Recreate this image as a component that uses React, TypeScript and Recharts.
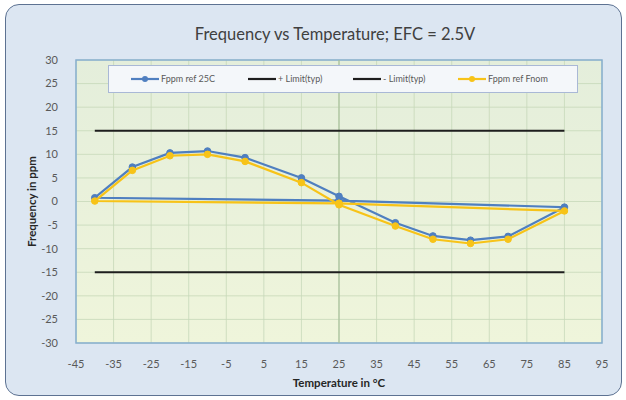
import React from 'react';
import { ScatterChart, Scatter, XAxis, YAxis, CartesianGrid, ReferenceLine, ReferenceArea } from 'recharts';

// loop: starts and ends at 25C
const temps = [25, -40, -30, -20, -10, 0, 15, 25, 40, 50, 60, 70, 85, 25];
const ppmRef25 = [0.2, 0.8, 7.3, 10.3, 10.7, 9.3, 5.0, 1.1, -4.5, -7.3, -8.2, -7.4, -1.2, 0.2];
const ppmRefNom = [-0.4, 0.1, 6.6, 9.7, 10.0, 8.5, 4.0, -0.7, -5.2, -8.0, -8.9, -8.0, -2.0, -0.4];

const limitTemps = [-40, 85];
const plusLimit = [15, 15];
const minusLimit = [-15, -15];

const xTicks = [-45, -35, -25, -15, -5, 5, 15, 25, 35, 45, 55, 65, 75, 85, 95];
const yTicks = [-30, -25, -20, -15, -10, -5, 0, 5, 10, 15, 20, 25, 30];

const BLUE = '#4f7fc0';
const YELLOW = '#f7c318';
const FONT = 'Lato, "Liberation Sans", sans-serif';

const toPoints = (xs: number[], ys: number[]) => xs.map((x, i) => ({ x, y: ys[i] }));

const dot = (color: string) => (props: any) => (
    <circle cx={props.cx} cy={props.cy} r={3.3} fill={color} stroke={color} />
);
const noDot = () => <g />;

const legendItems = [
    { name: 'Fppm ref 25C', color: BLUE, marker: true, left: 22 },
    { name: '+ Limit(typ)', color: '#1e1e1e', marker: false, left: 139 },
    { name: '- Limit(typ)', color: '#1e1e1e', marker: false, left: 244 },
    { name: 'Fppm ref Fnom', color: YELLOW, marker: true, left: 349 },
];

const ChartLegend = () => (
    <div
        style={{
            position: 'absolute',
            left: 108,
            top: 65,
            width: 470,
            height: 28,
            boxSizing: 'border-box',
            border: '1.5px solid #a9b8d6',
            background: '#f4f7fa',
            fontFamily: FONT,
            fontSize: 9,
            color: '#595959',
        }}
    >
        {legendItems.map((it) => (
            <div
                key={it.name}
                style={{ position: 'absolute', left: it.left, top: 7, display: 'flex', alignItems: 'center' }}
            >
                <svg width={28} height={10}>
                    <line x1={0} y1={5} x2={28} y2={5} stroke={it.color} strokeWidth={2.2} />
                    {it.marker && <circle cx={14} cy={5} r={3} fill={it.color} />}
                </svg>
                <span style={{ marginLeft: 2 }}>{it.name}</span>
            </div>
        ))}
    </div>
);

const App: React.FC = () => {
    return (
        <div style={{ position: 'absolute', left: 0, top: 0, width: 626, height: 400 }}>
            <div
                style={{
                    position: 'absolute',
                    left: 5,
                    top: 4,
                    width: 617,
                    height: 392,
                    boxSizing: 'border-box',
                    border: '1.5px solid #5d7292',
                    borderRadius: 14,
                    background: '#dce6f2',
                }}
            />
            <div
                style={{
                    position: 'absolute',
                    left: 0,
                    top: 24,
                    width: 670,
                    textAlign: 'center',
                    fontFamily: FONT,
                    fontSize: 16.5,
                    color: '#404040',
                }}
            >
                Frequency vs Temperature; EFC = 2.5V
            </div>
            <div style={{ position: 'absolute', left: 0, top: 0 }}>
                <ScatterChart width={626} height={400} margin={{ top: 60, right: 24, left: 0, bottom: 0 }}>
                    <defs>
                        <linearGradient id="plotBg" x1="0" y1="0" x2="0" y2="1">
                            <stop offset="0%" stopColor="#e4eedb" />
                            <stop offset="100%" stopColor="#eff5db" />
                        </linearGradient>
                    </defs>
                    <CartesianGrid fill="url(#plotBg)" stroke="#c6d8b9" strokeWidth={0.8} />
                    <XAxis
                        type="number"
                        dataKey="x"
                        domain={[-45, 95]}
                        ticks={xTicks}
                        height={57}
                        axisLine={false}
                        tickLine={false}
                        tickMargin={11}
                        tick={{ fill: '#595959', fontSize: 11, fontFamily: FONT }}
                        allowDataOverflow
                        label={{
                            value: 'Temperature in °C',
                            position: 'insideBottom',
                            offset: 13,
                            style: { fill: '#262626', fontSize: 11.5, fontWeight: 700, fontFamily: FONT },
                        }}
                    />
                    <YAxis
                        type="number"
                        dataKey="y"
                        domain={[-30, 30]}
                        ticks={yTicks}
                        width={76}
                        axisLine={false}
                        tickLine={false}
                        tickMargin={12}
                        tick={{ fill: '#595959', fontSize: 11, fontFamily: FONT }}
                        allowDataOverflow
                        label={{
                            value: 'Frequency in ppm',
                            angle: -90,
                            position: 'insideLeft',
                            offset: 32,
                            style: { textAnchor: 'middle', fill: '#262626', fontSize: 11.5, fontWeight: 700, fontFamily: FONT },
                        }}
                    />
                    <ReferenceLine x={25} stroke="#a9c19c" strokeWidth={1.2} />
                    <ReferenceArea x1={-45} x2={95} y1={-30} y2={30} fill="none" stroke="#86aed1" strokeWidth={1.5} />
                    <Scatter
                        name="Fppm ref 25C"
                        data={toPoints(temps, ppmRef25)}
                        line={{ stroke: BLUE, strokeWidth: 2.2 }}
                        shape={dot(BLUE)}
                        isAnimationActive={false}
                    />
                    <Scatter
                        name="+ Limit(typ)"
                        data={toPoints(limitTemps, plusLimit)}
                        line={{ stroke: '#1e1e1e', strokeWidth: 2.2 }}
                        shape={noDot}
                        isAnimationActive={false}
                    />
                    <Scatter
                        name="- Limit(typ)"
                        data={toPoints(limitTemps, minusLimit)}
                        line={{ stroke: '#1e1e1e', strokeWidth: 2.2 }}
                        shape={noDot}
                        isAnimationActive={false}
                    />
                    <Scatter
                        name="Fppm ref Fnom"
                        data={toPoints(temps, ppmRefNom)}
                        line={{ stroke: YELLOW, strokeWidth: 2.2 }}
                        shape={dot(YELLOW)}
                        isAnimationActive={false}
                    />
                </ScatterChart>
            </div>
            <ChartLegend />
        </div>
    );
};

export default App;
